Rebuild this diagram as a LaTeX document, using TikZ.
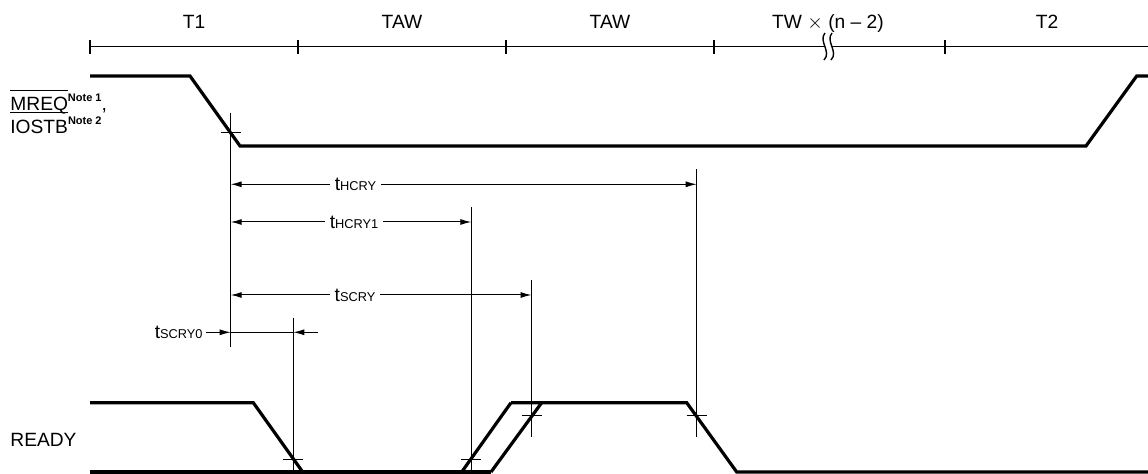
\documentclass[tikz,border=0pt]{standalone}
\usepackage{fontspec}
\setmainfont{Liberation Sans}
\usetikzlibrary{arrows.meta}
\newcommand\tlab[1]{t{\fontsize{6.4}{7}\selectfont #1}}
\newcommand\notesup[1]{\raisebox{4.6pt}{\fontsize{5.5}{6}\selectfont\bfseries Note~#1}}
\newcommand\ovl[1]{\setbox0\hbox{#1}\rlap{\rule[\dimexpr\ht0+3.2pt\relax]{\wd0}{0.6pt}}\box0}
\begin{document}
\begin{tikzpicture}[x=0.5pt, y=-0.5pt, font=\fontsize{9.6}{11}\selectfont,
    sig/.style={line width=1.6pt},
    axtick/.style={line width=0.6pt},
    guide/.style={line width=0.5pt},
    dimline/.style={line width=0.5pt, -{Latex[length=5.5pt,width=3pt]}},
    dimlab/.style={fill=white, inner xsep=2.2pt, inner ysep=1pt}]
      \useasboundingbox (0,0) rectangle (1148,474);

      \coordinate (A0) at (90,46.7);
      \coordinate (A5) at (1148,46.7);
      \draw[axtick] (A0) -- (A5);
      \foreach \x in {90,298,506,714,945} \draw[axtick] (\x,40) -- (\x,54);
      \fill[white] (825,44) rectangle (832,49.5);
      \foreach \x in {0,7} \draw[line width=0.7pt] (825+\x,33) .. controls (818+\x,41) and (832+\x,52) .. (824+\x,60);

      \node[anchor=base] (T1) at (194,28.3) {T1};
      \node[anchor=base] (TAWa) at (402,28.3) {TAW};
      \node[anchor=base] (TAWb) at (610,28.3) {TAW};
      \node[anchor=base] (TW) at (828,28.3) {TW $\times$ (n – 2)};
      \node[anchor=base] (T2) at (1047,28.3) {T2};

      \node[anchor=base west, inner sep=0pt] (mreq) at (10,111) {\ovl{MREQ}\notesup{1},};
      \node[anchor=base west, inner sep=0pt] (iostb) at (10,133.3) {\ovl{IOSTB}\notesup{2}};
      \node[anchor=west, inner sep=0pt] (ready) at (10,440) {READY};

      \draw[sig] (90,76) -- (190,76) -- (240,146) -- (1086,146) -- (1136.7,76) -- (1148,76);

      \draw[sig] (90,402.7) -- (253.3,402.7) -- (302.7,472);
      \draw[sig] (90,472) -- (491,472);
      \draw[sig] (461.7,472) -- (511,402.7);
      \draw[sig] (491,472) -- (541.7,402.7);
      \draw[sig] (511,402.7) -- (686.7,402.7) -- (736.7,472) -- (1148,472);

      \coordinate (cM) at (230.7,132.3);
      \coordinate (cR1) at (293.3,459.3);
      \coordinate (cR2) at (471.3,459.3);
      \coordinate (cR3) at (531.5,416);
      \coordinate (cR4) at (696.7,416);
      \foreach \c in {cM,cR1,cR2,cR3,cR4} \draw[guide] ([xshift=-5pt]\c) -- ([xshift=5pt]\c);

      \draw[guide] (230.7,112.7) -- (230.7,346.7);
      \draw[guide] (696.7,169.3) -- (696.7,437.3);
      \draw[guide] (471.3,207.3) -- (471.3,472);
      \draw[guide] (531.5,280) -- (531.5,437.3);
      \draw[guide] (293.3,317.7) -- (293.3,472);

      \coordinate (h0) at (230.7,184.3);
      \coordinate (h1) at (696.7,184.3);
      \node[dimlab] (thcry) at (355.5,184.3) {\tlab{HCRY}};
      \draw[dimline] (thcry) -- (h0);
      \draw[dimline] (thcry) -- (h1);

      \coordinate (h2) at (230.7,222);
      \coordinate (h3) at (471.3,222);
      \node[dimlab] (thcryi) at (354,222) {\tlab{HCRY1}};
      \draw[dimline] (thcryi) -- (h2);
      \draw[dimline] (thcryi) -- (h3);

      \coordinate (s2) at (230.7,295);
      \coordinate (s3) at (531.5,295);
      \node[dimlab] (tscry) at (355,295) {\tlab{SCRY}};
      \draw[dimline] (tscry) -- (s2);
      \draw[dimline] (tscry) -- (s3);

      \coordinate (l0) at (230.7,332.3);
      \coordinate (s0) at (293.3,332.3);
      \coordinate (s0r) at (318.3,332.3);
      \node[anchor=east, inner xsep=1.5pt, inner ysep=1pt] (tscryo) at (206,332.3) {\tlab{SCRY0}};
      \draw[dimline] (tscryo) -- (l0);
      \draw[guide] (l0) -- (s0);
      \draw[dimline] (s0r) -- (s0);
\end{tikzpicture}
\end{document}
